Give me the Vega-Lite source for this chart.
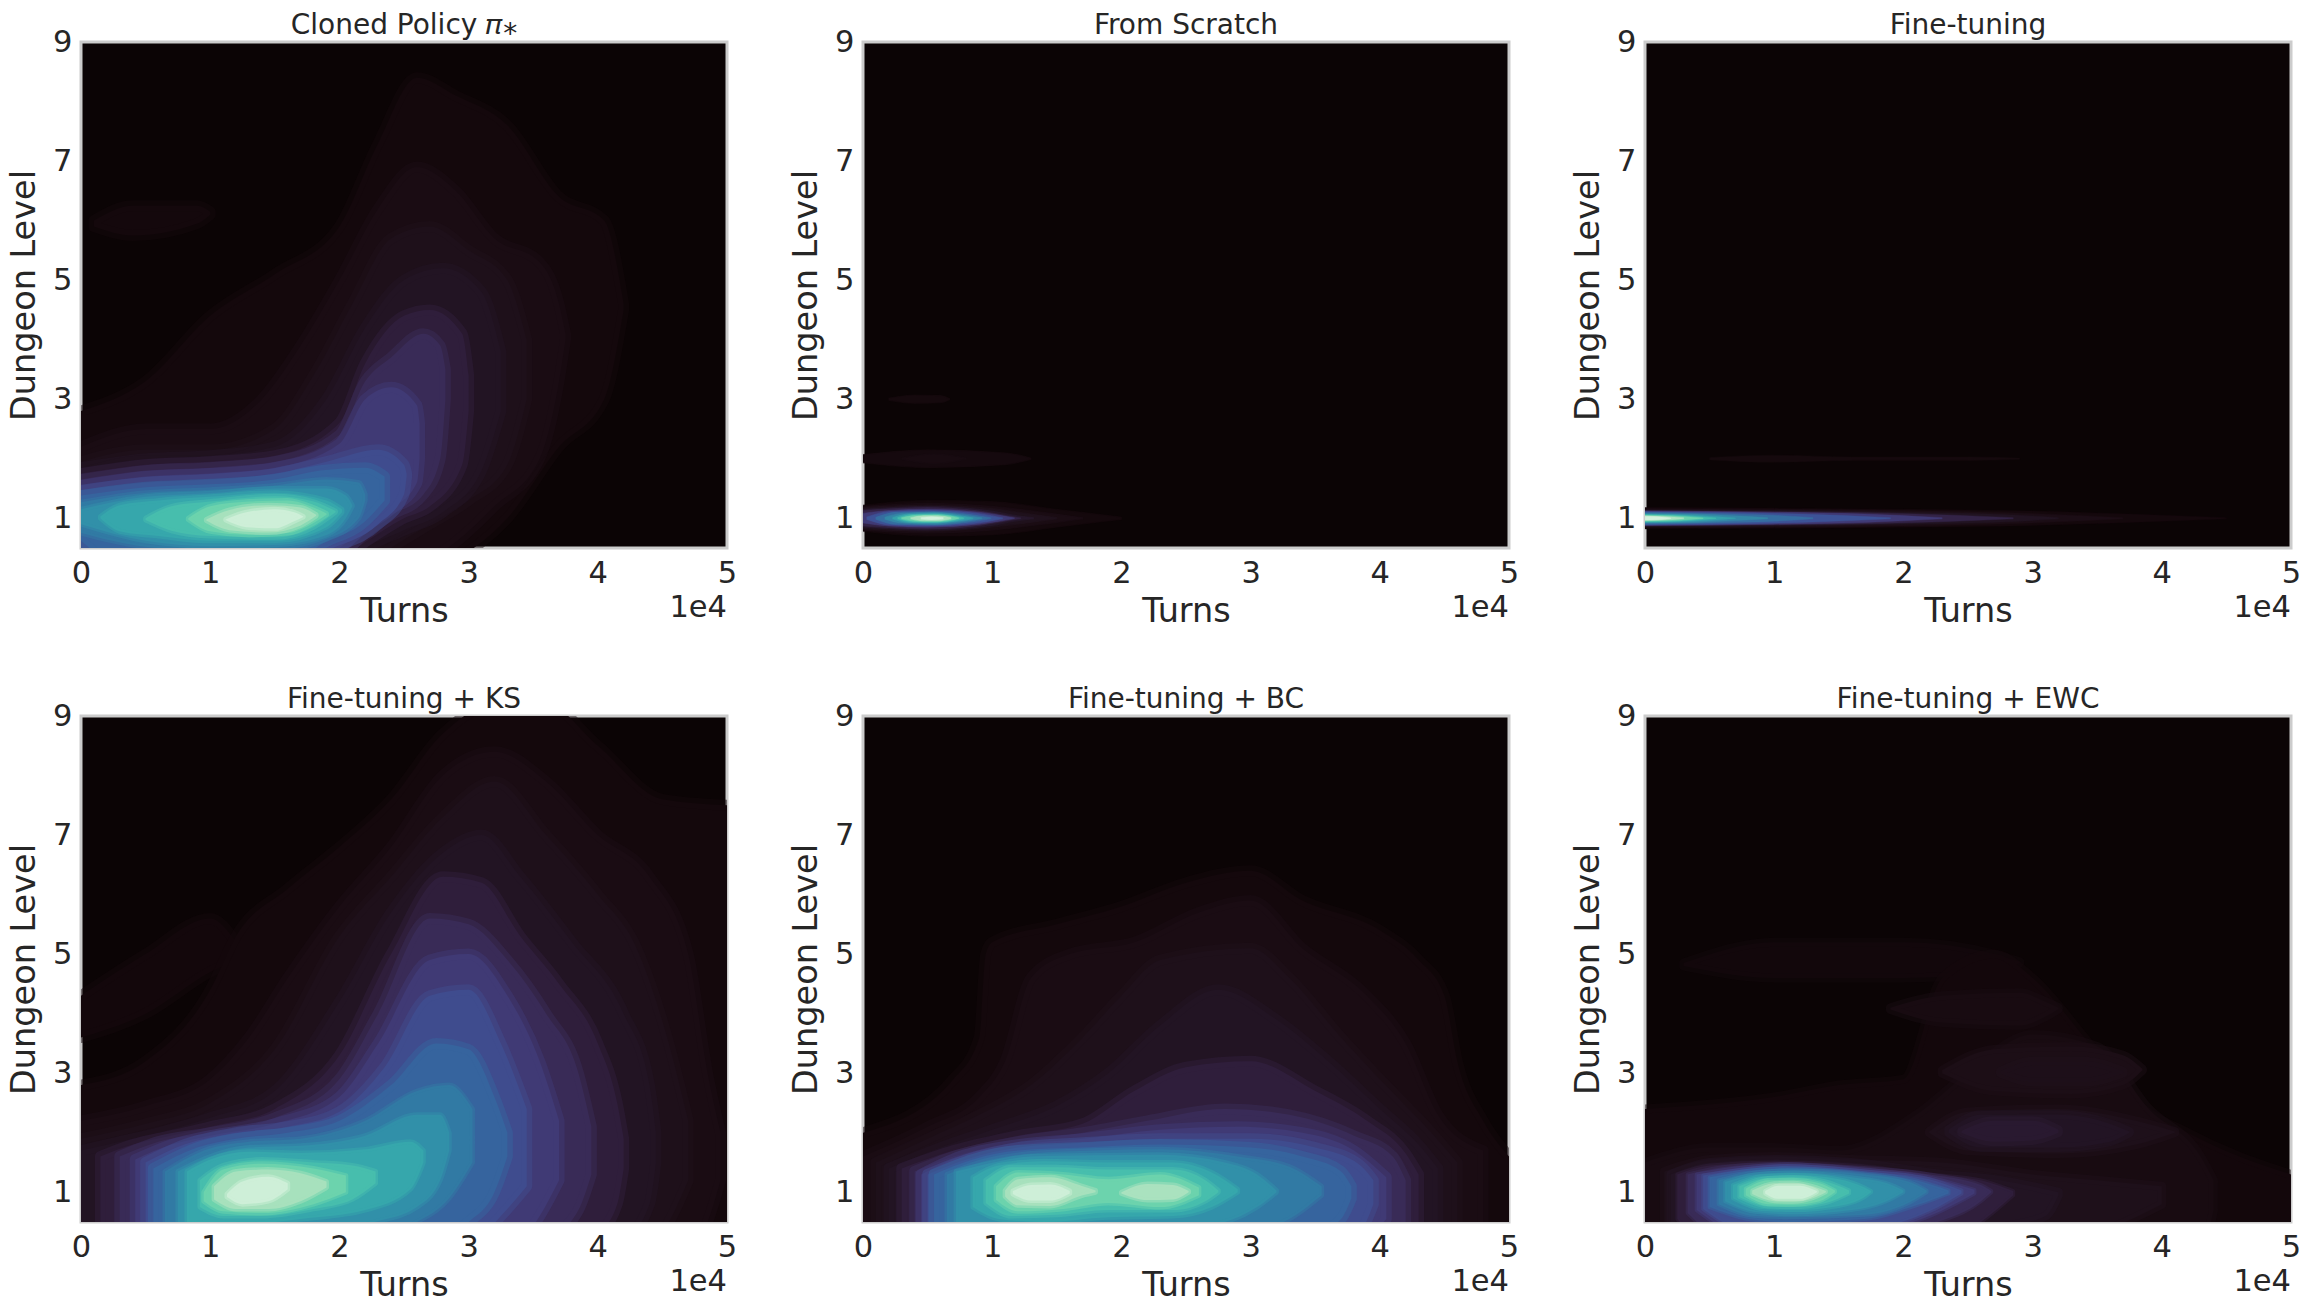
{"$schema":"https://vega.github.io/schema/vega-lite/v6.json","background":"white","padding":{"left":6,"top":10,"right":5,"bottom":5},"bounds":"flush","spacing":{"row":168,"column":136},"columns":3,
"config":{"font":"DejaVu Sans","view":{"fill":"#0B0405","stroke":"#cccccc","strokeWidth":3},"axis":{"domain":false,"ticks":false,"grid":false,"labelFontSize":30.5,"titleFontSize":33.5,"titleFontWeight":"normal","labelColor":"#262626","titleColor":"#262626","labelOverlap":false,"labelFlush":false,"labelBound":false}},
"data":{"values":[
{"p":1,"v":0.03,"x":0,"lo":0,"hi":2.8},{"p":1,"v":0.03,"x":0.5,"lo":0,"hi":3.3},{"p":1,"v":0.03,"x":1,"lo":0,"hi":4.4},{"p":1,"v":0.03,"x":1.5,"lo":0,"hi":5.1},{"p":1,"v":0.03,"x":2,"lo":0,"hi":5.9},{"p":1,"v":0.03,"x":2.3,"lo":0,"hi":7.3},{"p":1,"v":0.03,"x":2.6,"lo":0,"hi":8.4},{"p":1,"v":0.03,"x":2.9,"lo":0.3,"hi":8.1},{"p":1,"v":0.03,"x":3.3,"lo":1,"hi":7.6},{"p":1,"v":0.03,"x":3.7,"lo":2.2,"hi":6.4},{"p":1,"v":0.03,"x":4.05,"lo":3,"hi":6},{"p":1,"v":0.03,"x":4.2,"lo":4.5,"hi":4.6},
{"p":1,"v":0.031,"x":0.1,"lo":5.9,"hi":6},{"p":1,"v":0.031,"x":0.4,"lo":5.75,"hi":6.25},{"p":1,"v":0.031,"x":0.9,"lo":5.95,"hi":6.25},{"p":1,"v":0.031,"x":1,"lo":6.1,"hi":6.15},
{"p":1,"v":0.06,"x":0,"lo":0,"hi":2.2},{"p":1,"v":0.06,"x":0.5,"lo":0,"hi":2.5},{"p":1,"v":0.06,"x":1,"lo":0,"hi":2.5},{"p":1,"v":0.06,"x":1.4,"lo":0,"hi":3},{"p":1,"v":0.06,"x":1.7,"lo":0,"hi":3.9},{"p":1,"v":0.06,"x":2,"lo":0,"hi":5},{"p":1,"v":0.06,"x":2.3,"lo":0,"hi":6.2},{"p":1,"v":0.06,"x":2.6,"lo":0.2,"hi":6.9},{"p":1,"v":0.06,"x":2.9,"lo":0.6,"hi":6.5},{"p":1,"v":0.06,"x":3.2,"lo":1.2,"hi":5.7},{"p":1,"v":0.06,"x":3.55,"lo":2,"hi":5.3},{"p":1,"v":0.06,"x":3.7,"lo":3.3,"hi":4.6},{"p":1,"v":0.06,"x":3.75,"lo":4,"hi":4.1},
{"p":1,"v":0.09,"x":0,"lo":0,"hi":1.95},{"p":1,"v":0.09,"x":0.5,"lo":0,"hi":2.15},{"p":1,"v":0.09,"x":1,"lo":0,"hi":2.15},{"p":1,"v":0.09,"x":1.5,"lo":0,"hi":2.5},{"p":1,"v":0.09,"x":1.8,"lo":0,"hi":3.4},{"p":1,"v":0.09,"x":2.1,"lo":0,"hi":4.6},{"p":1,"v":0.09,"x":2.4,"lo":0.5,"hi":5.7},{"p":1,"v":0.09,"x":2.7,"lo":0.9,"hi":5.9},{"p":1,"v":0.09,"x":3,"lo":1.3,"hi":5.5},{"p":1,"v":0.09,"x":3.3,"lo":1.9,"hi":5},{"p":1,"v":0.09,"x":3.45,"lo":3,"hi":4},
{"p":1,"v":0.13,"x":0,"lo":0,"hi":1.85},{"p":1,"v":0.13,"x":0.5,"lo":0,"hi":2},{"p":1,"v":0.13,"x":1,"lo":0,"hi":2.05},{"p":1,"v":0.13,"x":1.5,"lo":0,"hi":2.2},{"p":1,"v":0.13,"x":1.9,"lo":0,"hi":3},{"p":1,"v":0.13,"x":2.2,"lo":0.5,"hi":4.2},{"p":1,"v":0.13,"x":2.5,"lo":0.8,"hi":5},{"p":1,"v":0.13,"x":2.8,"lo":1.1,"hi":5.2},{"p":1,"v":0.13,"x":3.1,"lo":1.8,"hi":4.8},{"p":1,"v":0.13,"x":3.25,"lo":2.8,"hi":3.8},
{"p":1,"v":0.18,"x":0,"lo":0,"hi":1.75},{"p":1,"v":0.18,"x":0.5,"lo":0,"hi":1.9},{"p":1,"v":0.18,"x":1,"lo":0,"hi":1.95},{"p":1,"v":0.18,"x":1.5,"lo":0,"hi":2.05},{"p":1,"v":0.18,"x":2,"lo":0.3,"hi":2.6},{"p":1,"v":0.18,"x":2.2,"lo":0.6,"hi":3.6},{"p":1,"v":0.18,"x":2.5,"lo":1,"hi":4.4},{"p":1,"v":0.18,"x":2.7,"lo":1.2,"hi":4.5},{"p":1,"v":0.18,"x":2.95,"lo":1.9,"hi":4.1},{"p":1,"v":0.18,"x":3,"lo":2.8,"hi":3.4},
{"p":1,"v":0.23,"x":0,"lo":0,"hi":1.65},{"p":1,"v":0.23,"x":0.5,"lo":0,"hi":1.8},{"p":1,"v":0.23,"x":1,"lo":0,"hi":1.85},{"p":1,"v":0.23,"x":1.5,"lo":0,"hi":1.95},{"p":1,"v":0.23,"x":2,"lo":0.35,"hi":2.4},{"p":1,"v":0.23,"x":2.2,"lo":0.75,"hi":3.3},{"p":1,"v":0.23,"x":2.4,"lo":1.05,"hi":3.7},{"p":1,"v":0.23,"x":2.65,"lo":1.4,"hi":4.1},{"p":1,"v":0.23,"x":2.78,"lo":2,"hi":3.9},{"p":1,"v":0.23,"x":2.82,"lo":3,"hi":3.5},
{"p":1,"v":0.28,"x":0,"lo":0,"hi":1.55},{"p":1,"v":0.28,"x":0.5,"lo":0,"hi":1.7},{"p":1,"v":0.28,"x":1,"lo":0,"hi":1.75},{"p":1,"v":0.28,"x":1.5,"lo":0,"hi":1.85},{"p":1,"v":0.28,"x":2,"lo":0.5,"hi":2.25},{"p":1,"v":0.28,"x":2.2,"lo":0.85,"hi":3},{"p":1,"v":0.28,"x":2.4,"lo":1.15,"hi":3.2},{"p":1,"v":0.28,"x":2.6,"lo":1.6,"hi":2.9},{"p":1,"v":0.28,"x":2.62,"lo":2,"hi":2.6},
{"p":1,"v":0.34,"x":0,"lo":0,"hi":1.47},{"p":1,"v":0.34,"x":0.5,"lo":0,"hi":1.6},{"p":1,"v":0.34,"x":1,"lo":0,"hi":1.65},{"p":1,"v":0.34,"x":1.5,"lo":0,"hi":1.75},{"p":1,"v":0.34,"x":1.9,"lo":0.45,"hi":1.95},{"p":1,"v":0.34,"x":2.3,"lo":0.9,"hi":2.15},{"p":1,"v":0.34,"x":2.5,"lo":1.4,"hi":1.9},{"p":1,"v":0.34,"x":2.52,"lo":1.7,"hi":1.75},
{"p":1,"v":0.42,"x":0,"lo":0.62,"hi":1.38},{"p":1,"v":0.42,"x":0.5,"lo":0,"hi":1.52},{"p":1,"v":0.42,"x":1,"lo":0,"hi":1.57},{"p":1,"v":0.42,"x":1.5,"lo":0,"hi":1.65},{"p":1,"v":0.42,"x":1.85,"lo":0.55,"hi":1.8},{"p":1,"v":0.42,"x":2.2,"lo":0.95,"hi":1.85},{"p":1,"v":0.42,"x":2.35,"lo":1.3,"hi":1.7},
{"p":1,"v":0.5,"x":0,"lo":0.75,"hi":1.27},{"p":1,"v":0.5,"x":0.5,"lo":0.52,"hi":1.43},{"p":1,"v":0.5,"x":1,"lo":0.46,"hi":1.48},{"p":1,"v":0.5,"x":1.5,"lo":0.47,"hi":1.55},{"p":1,"v":0.5,"x":1.9,"lo":0.65,"hi":1.65},{"p":1,"v":0.5,"x":2.15,"lo":1,"hi":1.6},{"p":1,"v":0.5,"x":2.2,"lo":1.3,"hi":1.4},
{"p":1,"v":0.58,"x":0,"lo":0.9,"hi":1.15},{"p":1,"v":0.58,"x":0.5,"lo":0.62,"hi":1.36},{"p":1,"v":0.58,"x":1,"lo":0.53,"hi":1.42},{"p":1,"v":0.58,"x":1.5,"lo":0.55,"hi":1.5},{"p":1,"v":0.58,"x":1.9,"lo":0.72,"hi":1.5},{"p":1,"v":0.58,"x":2.05,"lo":1,"hi":1.38},{"p":1,"v":0.58,"x":2.1,"lo":1.2,"hi":1.22},
{"p":1,"v":0.66,"x":0.15,"lo":1,"hi":1.03},{"p":1,"v":0.66,"x":0.3,"lo":0.78,"hi":1.22},{"p":1,"v":0.66,"x":0.6,"lo":0.7,"hi":1.3},{"p":1,"v":0.66,"x":1,"lo":0.62,"hi":1.36},{"p":1,"v":0.66,"x":1.5,"lo":0.62,"hi":1.43},{"p":1,"v":0.66,"x":1.9,"lo":0.85,"hi":1.3},{"p":1,"v":0.66,"x":2.02,"lo":1.1,"hi":1.15},
{"p":1,"v":0.74,"x":0.5,"lo":0.97,"hi":1},{"p":1,"v":0.74,"x":0.7,"lo":0.79,"hi":1.2},{"p":1,"v":0.74,"x":1,"lo":0.7,"hi":1.28},{"p":1,"v":0.74,"x":1.5,"lo":0.68,"hi":1.37},{"p":1,"v":0.74,"x":1.8,"lo":0.85,"hi":1.28},{"p":1,"v":0.74,"x":1.97,"lo":1.1,"hi":1.12},
{"p":1,"v":0.82,"x":0.83,"lo":0.98,"hi":1},{"p":1,"v":0.82,"x":1,"lo":0.78,"hi":1.2},{"p":1,"v":0.82,"x":1.3,"lo":0.72,"hi":1.28},{"p":1,"v":0.82,"x":1.6,"lo":0.75,"hi":1.3},{"p":1,"v":0.82,"x":1.8,"lo":0.92,"hi":1.18},{"p":1,"v":0.82,"x":1.9,"lo":1.06,"hi":1.08},
{"p":1,"v":0.9,"x":0.97,"lo":0.96,"hi":0.98},{"p":1,"v":0.9,"x":1.15,"lo":0.8,"hi":1.14},{"p":1,"v":0.9,"x":1.45,"lo":0.76,"hi":1.22},{"p":1,"v":0.9,"x":1.7,"lo":0.88,"hi":1.18},{"p":1,"v":0.9,"x":1.82,"lo":1.04,"hi":1.06},
{"p":1,"v":0.97,"x":1.12,"lo":0.97,"hi":0.98},{"p":1,"v":0.97,"x":1.28,"lo":0.85,"hi":1.1},{"p":1,"v":0.97,"x":1.5,"lo":0.83,"hi":1.15},{"p":1,"v":0.97,"x":1.65,"lo":0.95,"hi":1.1},{"p":1,"v":0.97,"x":1.72,"lo":1.02,"hi":1.03},
{"p":2,"v":0.03,"x":0,"lo":0.78,"hi":1.22},{"p":2,"v":0.03,"x":0.5,"lo":0.7,"hi":1.3},{"p":2,"v":0.03,"x":1,"lo":0.72,"hi":1.28},{"p":2,"v":0.03,"x":1.5,"lo":0.85,"hi":1.15},{"p":2,"v":0.03,"x":2,"lo":0.98,"hi":1.02},
{"p":2,"v":0.036,"x":0,"lo":1.93,"hi":2.07},{"p":2,"v":0.036,"x":0.5,"lo":1.85,"hi":2.15},{"p":2,"v":0.036,"x":1.1,"lo":1.9,"hi":2.1},{"p":2,"v":0.036,"x":1.3,"lo":1.99,"hi":2.01},
{"p":2,"v":0.035,"x":0.2,"lo":2.98,"hi":3.02},{"p":2,"v":0.035,"x":0.4,"lo":2.93,"hi":3.07},{"p":2,"v":0.035,"x":0.6,"lo":2.94,"hi":3.06},{"p":2,"v":0.035,"x":0.67,"lo":2.99,"hi":3.01},
{"p":2,"v":0.052,"x":0.3,"lo":1.99,"hi":2.01},{"p":2,"v":0.052,"x":0.55,"lo":1.92,"hi":2.08},{"p":2,"v":0.052,"x":0.8,"lo":1.99,"hi":2.01},
{"p":2,"v":0.06,"x":0,"lo":0.8,"hi":1.2},{"p":2,"v":0.06,"x":0.5,"lo":0.75,"hi":1.25},{"p":2,"v":0.06,"x":1,"lo":0.8,"hi":1.2},{"p":2,"v":0.06,"x":1.4,"lo":0.9,"hi":1.1},{"p":2,"v":0.06,"x":1.7,"lo":0.99,"hi":1.01},
{"p":2,"v":0.1,"x":0,"lo":0.82,"hi":1.18},{"p":2,"v":0.1,"x":0.5,"lo":0.78,"hi":1.22},{"p":2,"v":0.1,"x":1,"lo":0.85,"hi":1.16},{"p":2,"v":0.1,"x":1.3,"lo":0.93,"hi":1.07},{"p":2,"v":0.1,"x":1.5,"lo":0.99,"hi":1.01},
{"p":2,"v":0.15,"x":0,"lo":0.85,"hi":1.15},{"p":2,"v":0.15,"x":0.5,"lo":0.8,"hi":1.2},{"p":2,"v":0.15,"x":1,"lo":0.88,"hi":1.12},{"p":2,"v":0.15,"x":1.2,"lo":0.96,"hi":1.04},{"p":2,"v":0.15,"x":1.32,"lo":0.99,"hi":1.01},
{"p":2,"v":0.2,"x":0,"lo":0.87,"hi":1.13},{"p":2,"v":0.2,"x":0.5,"lo":0.82,"hi":1.18},{"p":2,"v":0.2,"x":0.9,"lo":0.88,"hi":1.12},{"p":2,"v":0.2,"x":1.15,"lo":0.97,"hi":1.03},{"p":2,"v":0.2,"x":1.22,"lo":0.995,"hi":1.005},
{"p":2,"v":0.28,"x":0,"lo":0.92,"hi":1.08},{"p":2,"v":0.28,"x":0.2,"lo":0.87,"hi":1.13},{"p":2,"v":0.28,"x":0.5,"lo":0.85,"hi":1.15},{"p":2,"v":0.28,"x":0.9,"lo":0.9,"hi":1.1},{"p":2,"v":0.28,"x":1.17,"lo":0.995,"hi":1.005},
{"p":2,"v":0.36,"x":0.03,"lo":0.98,"hi":1.02},{"p":2,"v":0.36,"x":0.2,"lo":0.89,"hi":1.11},{"p":2,"v":0.36,"x":0.5,"lo":0.87,"hi":1.13},{"p":2,"v":0.36,"x":0.85,"lo":0.91,"hi":1.09},{"p":2,"v":0.36,"x":1.08,"lo":0.995,"hi":1.005},
{"p":2,"v":0.45,"x":0.1,"lo":0.985,"hi":1.015},{"p":2,"v":0.45,"x":0.25,"lo":0.9,"hi":1.1},{"p":2,"v":0.45,"x":0.55,"lo":0.89,"hi":1.11},{"p":2,"v":0.45,"x":0.8,"lo":0.93,"hi":1.07},{"p":2,"v":0.45,"x":0.99,"lo":0.995,"hi":1.005},
{"p":2,"v":0.55,"x":0.17,"lo":0.985,"hi":1.015},{"p":2,"v":0.55,"x":0.3,"lo":0.92,"hi":1.08},{"p":2,"v":0.55,"x":0.55,"lo":0.9,"hi":1.1},{"p":2,"v":0.55,"x":0.75,"lo":0.94,"hi":1.06},{"p":2,"v":0.55,"x":0.92,"lo":0.995,"hi":1.005},
{"p":2,"v":0.64,"x":0.23,"lo":0.99,"hi":1.01},{"p":2,"v":0.64,"x":0.35,"lo":0.93,"hi":1.07},{"p":2,"v":0.64,"x":0.55,"lo":0.92,"hi":1.08},{"p":2,"v":0.64,"x":0.72,"lo":0.95,"hi":1.05},{"p":2,"v":0.64,"x":0.85,"lo":0.995,"hi":1.005},
{"p":2,"v":0.73,"x":0.27,"lo":0.99,"hi":1.01},{"p":2,"v":0.73,"x":0.38,"lo":0.94,"hi":1.06},{"p":2,"v":0.73,"x":0.55,"lo":0.93,"hi":1.07},{"p":2,"v":0.73,"x":0.68,"lo":0.955,"hi":1.045},{"p":2,"v":0.73,"x":0.78,"lo":0.995,"hi":1.005},
{"p":2,"v":0.82,"x":0.3,"lo":0.99,"hi":1.01},{"p":2,"v":0.82,"x":0.42,"lo":0.95,"hi":1.05},{"p":2,"v":0.82,"x":0.55,"lo":0.945,"hi":1.055},{"p":2,"v":0.82,"x":0.66,"lo":0.96,"hi":1.04},{"p":2,"v":0.82,"x":0.74,"lo":0.995,"hi":1.005},
{"p":2,"v":0.91,"x":0.37,"lo":0.99,"hi":1.01},{"p":2,"v":0.91,"x":0.47,"lo":0.96,"hi":1.04},{"p":2,"v":0.91,"x":0.58,"lo":0.96,"hi":1.04},{"p":2,"v":0.91,"x":0.68,"lo":0.99,"hi":1.01},
{"p":2,"v":0.98,"x":0.45,"lo":0.99,"hi":1.01},{"p":2,"v":0.98,"x":0.53,"lo":0.975,"hi":1.025},{"p":2,"v":0.98,"x":0.62,"lo":0.99,"hi":1.01},
{"p":3,"v":0.03,"x":0,"lo":0.82,"hi":1.18},{"p":3,"v":0.03,"x":1,"lo":0.83,"hi":1.17},{"p":3,"v":0.03,"x":2,"lo":0.85,"hi":1.15},{"p":3,"v":0.03,"x":3,"lo":0.88,"hi":1.12},{"p":3,"v":0.03,"x":4,"lo":0.95,"hi":1.05},{"p":3,"v":0.03,"x":4.5,"lo":0.99,"hi":1.01},
{"p":3,"v":0.035,"x":0.5,"lo":1.98,"hi":2.02},{"p":3,"v":0.035,"x":1,"lo":1.94,"hi":2.06},{"p":3,"v":0.035,"x":1.6,"lo":1.97,"hi":2.03},{"p":3,"v":0.035,"x":2.5,"lo":1.97,"hi":2.03},{"p":3,"v":0.035,"x":2.9,"lo":1.99,"hi":2.01},
{"p":3,"v":0.07,"x":0,"lo":0.84,"hi":1.16},{"p":3,"v":0.07,"x":1,"lo":0.85,"hi":1.15},{"p":3,"v":0.07,"x":2,"lo":0.87,"hi":1.13},{"p":3,"v":0.07,"x":3,"lo":0.92,"hi":1.08},{"p":3,"v":0.07,"x":3.7,"lo":0.99,"hi":1.01},
{"p":3,"v":0.12,"x":0,"lo":0.86,"hi":1.14},{"p":3,"v":0.12,"x":1,"lo":0.87,"hi":1.13},{"p":3,"v":0.12,"x":2,"lo":0.9,"hi":1.1},{"p":3,"v":0.12,"x":2.9,"lo":0.95,"hi":1.05},{"p":3,"v":0.12,"x":3.2,"lo":0.99,"hi":1.01},
{"p":3,"v":0.2,"x":0,"lo":0.87,"hi":1.13},{"p":3,"v":0.2,"x":1,"lo":0.89,"hi":1.11},{"p":3,"v":0.2,"x":1.8,"lo":0.91,"hi":1.09},{"p":3,"v":0.2,"x":2.4,"lo":0.95,"hi":1.05},{"p":3,"v":0.2,"x":2.85,"lo":0.99,"hi":1.01},
{"p":3,"v":0.28,"x":0,"lo":0.88,"hi":1.12},{"p":3,"v":0.28,"x":1,"lo":0.9,"hi":1.1},{"p":3,"v":0.28,"x":1.7,"lo":0.93,"hi":1.07},{"p":3,"v":0.28,"x":2.3,"lo":0.99,"hi":1.01},
{"p":3,"v":0.36,"x":0,"lo":0.89,"hi":1.11},{"p":3,"v":0.36,"x":0.5,"lo":0.9,"hi":1.1},{"p":3,"v":0.36,"x":1.2,"lo":0.93,"hi":1.07},{"p":3,"v":0.36,"x":1.9,"lo":0.99,"hi":1.01},
{"p":3,"v":0.45,"x":0,"lo":0.9,"hi":1.1},{"p":3,"v":0.45,"x":0.5,"lo":0.92,"hi":1.08},{"p":3,"v":0.45,"x":1,"lo":0.95,"hi":1.05},{"p":3,"v":0.45,"x":1.3,"lo":0.99,"hi":1.01},
{"p":3,"v":0.55,"x":0,"lo":0.92,"hi":1.08},{"p":3,"v":0.55,"x":0.4,"lo":0.93,"hi":1.07},{"p":3,"v":0.55,"x":0.7,"lo":0.96,"hi":1.04},{"p":3,"v":0.55,"x":0.95,"lo":0.99,"hi":1.01},
{"p":3,"v":0.64,"x":0,"lo":0.93,"hi":1.07},{"p":3,"v":0.64,"x":0.3,"lo":0.94,"hi":1.06},{"p":3,"v":0.64,"x":0.55,"lo":0.97,"hi":1.03},{"p":3,"v":0.64,"x":0.7,"lo":0.995,"hi":1.005},
{"p":3,"v":0.73,"x":0,"lo":0.94,"hi":1.06},{"p":3,"v":0.73,"x":0.25,"lo":0.95,"hi":1.05},{"p":3,"v":0.73,"x":0.45,"lo":0.98,"hi":1.02},{"p":3,"v":0.73,"x":0.55,"lo":0.995,"hi":1.005},
{"p":3,"v":0.82,"x":0,"lo":0.95,"hi":1.05},{"p":3,"v":0.82,"x":0.2,"lo":0.96,"hi":1.04},{"p":3,"v":0.82,"x":0.35,"lo":0.98,"hi":1.02},{"p":3,"v":0.82,"x":0.45,"lo":0.995,"hi":1.005},
{"p":3,"v":0.91,"x":0,"lo":0.96,"hi":1.04},{"p":3,"v":0.91,"x":0.15,"lo":0.97,"hi":1.03},{"p":3,"v":0.91,"x":0.3,"lo":0.99,"hi":1.01},
{"p":3,"v":0.98,"x":0,"lo":0.97,"hi":1.03},{"p":3,"v":0.98,"x":0.1,"lo":0.975,"hi":1.025},{"p":3,"v":0.98,"x":0.2,"lo":0.995,"hi":1.005},
{"p":4,"v":0.025,"x":0,"lo":3.6,"hi":4.3},{"p":4,"v":0.025,"x":0.5,"lo":4,"hi":5},{"p":4,"v":0.025,"x":1,"lo":4.7,"hi":5.6},{"p":4,"v":0.025,"x":1.2,"lo":4.9,"hi":5.2},
{"p":4,"v":0.03,"x":0,"lo":0,"hi":2.8},{"p":4,"v":0.03,"x":0.5,"lo":0,"hi":3.2},{"p":4,"v":0.03,"x":1,"lo":0,"hi":4.4},{"p":4,"v":0.03,"x":1.2,"lo":0,"hi":5.3},{"p":4,"v":0.03,"x":1.6,"lo":0,"hi":6.1},{"p":4,"v":0.03,"x":2,"lo":0,"hi":6.8},{"p":4,"v":0.03,"x":2.4,"lo":0,"hi":7.6},{"p":4,"v":0.03,"x":2.8,"lo":0,"hi":8.7},{"p":4,"v":0.03,"x":3.2,"lo":0,"hi":9.2},{"p":4,"v":0.03,"x":3.6,"lo":0,"hi":9.2},{"p":4,"v":0.03,"x":4,"lo":0,"hi":8.5},{"p":4,"v":0.03,"x":4.5,"lo":0,"hi":7.6},{"p":4,"v":0.03,"x":5,"lo":0,"hi":7.5},
{"p":4,"v":0.06,"x":0,"lo":0,"hi":2.2},{"p":4,"v":0.06,"x":0.5,"lo":0,"hi":2.45},{"p":4,"v":0.06,"x":1,"lo":0,"hi":2.9},{"p":4,"v":0.06,"x":1.3,"lo":0,"hi":3.6},{"p":4,"v":0.06,"x":1.6,"lo":0,"hi":4.6},{"p":4,"v":0.06,"x":2,"lo":0,"hi":5.8},{"p":4,"v":0.06,"x":2.4,"lo":0,"hi":6.8},{"p":4,"v":0.06,"x":2.8,"lo":0,"hi":8},{"p":4,"v":0.06,"x":3.2,"lo":0,"hi":8.4},{"p":4,"v":0.06,"x":3.6,"lo":0,"hi":7.9},{"p":4,"v":0.06,"x":4,"lo":0,"hi":7},{"p":4,"v":0.06,"x":4.4,"lo":0,"hi":6.3},{"p":4,"v":0.06,"x":4.7,"lo":0,"hi":5},{"p":4,"v":0.06,"x":4.85,"lo":0.5,"hi":3},{"p":4,"v":0.06,"x":4.95,"lo":1.2,"hi":2},
{"p":4,"v":0.09,"x":0,"lo":0,"hi":1.9},{"p":4,"v":0.09,"x":0.5,"lo":0,"hi":2.15},{"p":4,"v":0.09,"x":1,"lo":0,"hi":2.5},{"p":4,"v":0.09,"x":1.5,"lo":0,"hi":3.4},{"p":4,"v":0.09,"x":2,"lo":0,"hi":5.3},{"p":4,"v":0.09,"x":2.4,"lo":0,"hi":6.3},{"p":4,"v":0.09,"x":2.8,"lo":0,"hi":7.3},{"p":4,"v":0.09,"x":3.2,"lo":0,"hi":7.9},{"p":4,"v":0.09,"x":3.6,"lo":0,"hi":7},{"p":4,"v":0.09,"x":4,"lo":0,"hi":6},{"p":4,"v":0.09,"x":4.3,"lo":0,"hi":5.1},{"p":4,"v":0.09,"x":4.55,"lo":0.5,"hi":3.5},{"p":4,"v":0.09,"x":4.7,"lo":1.2,"hi":2.2},
{"p":4,"v":0.13,"x":0,"lo":0.35,"hi":1.7},{"p":4,"v":0.13,"x":0.3,"lo":0,"hi":1.85},{"p":4,"v":0.13,"x":0.6,"lo":0,"hi":2},{"p":4,"v":0.13,"x":1,"lo":0,"hi":2.25},{"p":4,"v":0.13,"x":1.5,"lo":0,"hi":2.7},{"p":4,"v":0.13,"x":2,"lo":0,"hi":4.2},{"p":4,"v":0.13,"x":2.4,"lo":0,"hi":5.7},{"p":4,"v":0.13,"x":2.8,"lo":0,"hi":6.7},{"p":4,"v":0.13,"x":3.1,"lo":0,"hi":7},{"p":4,"v":0.13,"x":3.4,"lo":0,"hi":6.3},{"p":4,"v":0.13,"x":3.8,"lo":0,"hi":5.2},{"p":4,"v":0.13,"x":4.2,"lo":0.2,"hi":4},{"p":4,"v":0.13,"x":4.4,"lo":0.8,"hi":2.8},{"p":4,"v":0.13,"x":4.45,"lo":1.5,"hi":2},
{"p":4,"v":0.18,"x":0.15,"lo":0,"hi":1.6},{"p":4,"v":0.18,"x":0.4,"lo":0,"hi":1.8},{"p":4,"v":0.18,"x":0.7,"lo":0,"hi":1.95},{"p":4,"v":0.18,"x":1,"lo":0,"hi":2.1},{"p":4,"v":0.18,"x":1.5,"lo":0,"hi":2.4},{"p":4,"v":0.18,"x":2,"lo":0,"hi":3.3},{"p":4,"v":0.18,"x":2.4,"lo":0,"hi":5},{"p":4,"v":0.18,"x":2.8,"lo":0,"hi":6.3},{"p":4,"v":0.18,"x":3.1,"lo":0,"hi":6.2},{"p":4,"v":0.18,"x":3.4,"lo":0,"hi":5.3},{"p":4,"v":0.18,"x":3.7,"lo":0,"hi":4.5},{"p":4,"v":0.18,"x":4,"lo":0.3,"hi":3.5},{"p":4,"v":0.18,"x":4.15,"lo":0.8,"hi":2.5},{"p":4,"v":0.18,"x":4.2,"lo":1.4,"hi":1.9},
{"p":4,"v":0.23,"x":0.3,"lo":0,"hi":1.6},{"p":4,"v":0.23,"x":0.6,"lo":0,"hi":1.85},{"p":4,"v":0.23,"x":1,"lo":0,"hi":2},{"p":4,"v":0.23,"x":1.5,"lo":0,"hi":2.25},{"p":4,"v":0.23,"x":2,"lo":0,"hi":2.9},{"p":4,"v":0.23,"x":2.3,"lo":0,"hi":4},{"p":4,"v":0.23,"x":2.7,"lo":0,"hi":5.6},{"p":4,"v":0.23,"x":3,"lo":0,"hi":5.5},{"p":4,"v":0.23,"x":3.3,"lo":0,"hi":4.9},{"p":4,"v":0.23,"x":3.6,"lo":0.2,"hi":4},{"p":4,"v":0.23,"x":3.85,"lo":0.7,"hi":3},{"p":4,"v":0.23,"x":3.95,"lo":1.3,"hi":2.1},
{"p":4,"v":0.28,"x":0.42,"lo":0,"hi":1.55},{"p":4,"v":0.28,"x":0.7,"lo":0,"hi":1.8},{"p":4,"v":0.28,"x":1,"lo":0,"hi":1.95},{"p":4,"v":0.28,"x":1.5,"lo":0,"hi":2.15},{"p":4,"v":0.28,"x":2,"lo":0,"hi":2.6},{"p":4,"v":0.28,"x":2.3,"lo":0,"hi":3.5},{"p":4,"v":0.28,"x":2.7,"lo":0,"hi":4.9},{"p":4,"v":0.28,"x":3,"lo":0,"hi":5},{"p":4,"v":0.28,"x":3.3,"lo":0,"hi":4.3},{"p":4,"v":0.28,"x":3.55,"lo":0.6,"hi":3.2},{"p":4,"v":0.28,"x":3.7,"lo":1.2,"hi":2.2},
{"p":4,"v":0.34,"x":0.5,"lo":0,"hi":1.5},{"p":4,"v":0.34,"x":0.8,"lo":0,"hi":1.8},{"p":4,"v":0.34,"x":1.2,"lo":0,"hi":2},{"p":4,"v":0.34,"x":1.6,"lo":0,"hi":2.1},{"p":4,"v":0.34,"x":2,"lo":0,"hi":2.35},{"p":4,"v":0.34,"x":2.35,"lo":0,"hi":3.1},{"p":4,"v":0.34,"x":2.7,"lo":0,"hi":4.3},{"p":4,"v":0.34,"x":3,"lo":0.1,"hi":4.4},{"p":4,"v":0.34,"x":3.25,"lo":0.6,"hi":3.5},{"p":4,"v":0.34,"x":3.45,"lo":1.1,"hi":2.4},
{"p":4,"v":0.42,"x":0.56,"lo":0,"hi":1.4},{"p":4,"v":0.42,"x":0.9,"lo":0,"hi":1.75},{"p":4,"v":0.42,"x":1.2,"lo":0,"hi":1.9},{"p":4,"v":0.42,"x":1.6,"lo":0,"hi":2},{"p":4,"v":0.42,"x":2,"lo":0,"hi":2.2},{"p":4,"v":0.42,"x":2.4,"lo":0,"hi":2.8},{"p":4,"v":0.42,"x":2.75,"lo":0.2,"hi":3.5},{"p":4,"v":0.42,"x":3,"lo":0.5,"hi":3.4},{"p":4,"v":0.42,"x":3.2,"lo":1,"hi":2.6},{"p":4,"v":0.42,"x":3.3,"lo":1.6,"hi":2},
{"p":4,"v":0.5,"x":0.65,"lo":0,"hi":1.35},{"p":4,"v":0.5,"x":0.95,"lo":0,"hi":1.7},{"p":4,"v":0.5,"x":1.3,"lo":0,"hi":1.85},{"p":4,"v":0.5,"x":1.7,"lo":0,"hi":1.9},{"p":4,"v":0.5,"x":2.2,"lo":0.2,"hi":2.2},{"p":4,"v":0.5,"x":2.6,"lo":0.5,"hi":2.7},{"p":4,"v":0.5,"x":2.85,"lo":0.9,"hi":2.8},{"p":4,"v":0.5,"x":3.03,"lo":1.5,"hi":2.4},
{"p":4,"v":0.58,"x":0.75,"lo":0,"hi":1.35},{"p":4,"v":0.58,"x":1,"lo":0,"hi":1.6},{"p":4,"v":0.58,"x":1.3,"lo":0,"hi":1.75},{"p":4,"v":0.58,"x":1.7,"lo":0,"hi":1.78},{"p":4,"v":0.58,"x":2.2,"lo":0.45,"hi":1.95},{"p":4,"v":0.58,"x":2.6,"lo":0.75,"hi":2.3},{"p":4,"v":0.58,"x":2.78,"lo":1.2,"hi":2.3},{"p":4,"v":0.58,"x":2.85,"lo":1.7,"hi":2},
{"p":4,"v":0.66,"x":0.82,"lo":0.45,"hi":1.35},{"p":4,"v":0.66,"x":1,"lo":0.5,"hi":1.55},{"p":4,"v":0.66,"x":1.3,"lo":0.47,"hi":1.68},{"p":4,"v":0.66,"x":1.7,"lo":0.55,"hi":1.66},{"p":4,"v":0.66,"x":2.2,"lo":0.7,"hi":1.72},{"p":4,"v":0.66,"x":2.55,"lo":1.05,"hi":1.85},{"p":4,"v":0.66,"x":2.65,"lo":1.5,"hi":1.7},
{"p":4,"v":0.74,"x":0.92,"lo":0.75,"hi":1.2},{"p":4,"v":0.74,"x":1.1,"lo":0.6,"hi":1.45},{"p":4,"v":0.74,"x":1.4,"lo":0.6,"hi":1.55},{"p":4,"v":0.74,"x":1.8,"lo":0.72,"hi":1.5},{"p":4,"v":0.74,"x":2.1,"lo":0.88,"hi":1.45},{"p":4,"v":0.74,"x":2.28,"lo":1.15,"hi":1.35},
{"p":4,"v":0.82,"x":0.95,"lo":0.85,"hi":1},{"p":4,"v":0.82,"x":1.1,"lo":0.68,"hi":1.38},{"p":4,"v":0.82,"x":1.4,"lo":0.65,"hi":1.48},{"p":4,"v":0.82,"x":1.8,"lo":0.8,"hi":1.4},{"p":4,"v":0.82,"x":2.05,"lo":1,"hi":1.28},
{"p":4,"v":0.9,"x":1.03,"lo":0.88,"hi":1.1},{"p":4,"v":0.9,"x":1.2,"lo":0.72,"hi":1.35},{"p":4,"v":0.9,"x":1.45,"lo":0.72,"hi":1.38},{"p":4,"v":0.9,"x":1.7,"lo":0.85,"hi":1.32},{"p":4,"v":0.9,"x":1.9,"lo":1.08,"hi":1.18},
{"p":4,"v":0.97,"x":1.13,"lo":0.92,"hi":0.97},{"p":4,"v":0.97,"x":1.25,"lo":0.8,"hi":1.18},{"p":4,"v":0.97,"x":1.45,"lo":0.85,"hi":1.26},{"p":4,"v":0.97,"x":1.6,"lo":1.05,"hi":1.15},
{"p":5,"v":0.03,"x":0,"lo":0,"hi":2},{"p":5,"v":0.03,"x":0.7,"lo":0,"hi":2.9},{"p":5,"v":0.03,"x":0.9,"lo":0,"hi":3.6},{"p":5,"v":0.03,"x":0.95,"lo":0,"hi":5},{"p":5,"v":0.03,"x":1,"lo":0,"hi":5.2},{"p":5,"v":0.03,"x":1.5,"lo":0,"hi":5.5},{"p":5,"v":0.03,"x":2,"lo":0,"hi":5.8},{"p":5,"v":0.03,"x":2.5,"lo":0,"hi":6.2},{"p":5,"v":0.03,"x":3,"lo":0,"hi":6.4},{"p":5,"v":0.03,"x":3.4,"lo":0,"hi":5.9},{"p":5,"v":0.03,"x":4,"lo":0,"hi":5.4},{"p":5,"v":0.03,"x":4.3,"lo":0,"hi":4.9},{"p":5,"v":0.03,"x":4.5,"lo":0,"hi":4.3},{"p":5,"v":0.03,"x":4.6,"lo":0,"hi":3.2},{"p":5,"v":0.03,"x":4.8,"lo":0,"hi":2.2},{"p":5,"v":0.03,"x":5,"lo":0,"hi":1.6},
{"p":5,"v":0.06,"x":0,"lo":0,"hi":1.6},{"p":5,"v":0.06,"x":0.5,"lo":0,"hi":2.1},{"p":5,"v":0.06,"x":0.9,"lo":0,"hi":2.6},{"p":5,"v":0.06,"x":1.1,"lo":0,"hi":3.2},{"p":5,"v":0.06,"x":1.3,"lo":0,"hi":4.6},{"p":5,"v":0.06,"x":1.6,"lo":0,"hi":5},{"p":5,"v":0.06,"x":2.1,"lo":0,"hi":5.2},{"p":5,"v":0.06,"x":2.6,"lo":0,"hi":5.7},{"p":5,"v":0.06,"x":3,"lo":0,"hi":5.9},{"p":5,"v":0.06,"x":3.4,"lo":0,"hi":5.1},{"p":5,"v":0.06,"x":3.9,"lo":0,"hi":4.3},{"p":5,"v":0.06,"x":4.2,"lo":0,"hi":3.5},{"p":5,"v":0.06,"x":4.45,"lo":0,"hi":2.3},{"p":5,"v":0.06,"x":4.8,"lo":0.3,"hi":1.7},
{"p":5,"v":0.09,"x":0.1,"lo":0,"hi":1.5},{"p":5,"v":0.09,"x":0.5,"lo":0,"hi":1.9},{"p":5,"v":0.09,"x":0.9,"lo":0,"hi":2.3},{"p":5,"v":0.09,"x":1.3,"lo":0,"hi":2.8},{"p":5,"v":0.09,"x":1.7,"lo":0,"hi":3.6},{"p":5,"v":0.09,"x":2,"lo":0,"hi":4.3},{"p":5,"v":0.09,"x":2.3,"lo":0,"hi":4.9},{"p":5,"v":0.09,"x":3,"lo":0,"hi":5.1},{"p":5,"v":0.09,"x":3.3,"lo":0,"hi":4.6},{"p":5,"v":0.09,"x":3.7,"lo":0,"hi":3.6},{"p":5,"v":0.09,"x":4,"lo":0,"hi":2.9},{"p":5,"v":0.09,"x":4.4,"lo":0,"hi":2},{"p":5,"v":0.09,"x":4.6,"lo":0.2,"hi":1.5},
{"p":5,"v":0.13,"x":0.2,"lo":0,"hi":1.4},{"p":5,"v":0.13,"x":0.6,"lo":0,"hi":1.75},{"p":5,"v":0.13,"x":1,"lo":0,"hi":2.05},{"p":5,"v":0.13,"x":1.5,"lo":0,"hi":2.45},{"p":5,"v":0.13,"x":1.9,"lo":0,"hi":3},{"p":5,"v":0.13,"x":2.3,"lo":0,"hi":3.8},{"p":5,"v":0.13,"x":2.75,"lo":0,"hi":4.4},{"p":5,"v":0.13,"x":3.2,"lo":0,"hi":3.9},{"p":5,"v":0.13,"x":3.6,"lo":0,"hi":3.2},{"p":5,"v":0.13,"x":4,"lo":0,"hi":2.4},{"p":5,"v":0.13,"x":4.3,"lo":0,"hi":1.8},{"p":5,"v":0.13,"x":4.45,"lo":0.3,"hi":1.4},
{"p":5,"v":0.18,"x":0.3,"lo":0,"hi":1.4},{"p":5,"v":0.18,"x":0.7,"lo":0,"hi":1.7},{"p":5,"v":0.18,"x":1.2,"lo":0,"hi":1.95},{"p":5,"v":0.18,"x":1.7,"lo":0,"hi":2.15},{"p":5,"v":0.18,"x":2.1,"lo":0,"hi":2.7},{"p":5,"v":0.18,"x":2.5,"lo":0,"hi":3.1},{"p":5,"v":0.18,"x":3,"lo":0,"hi":3.2},{"p":5,"v":0.18,"x":3.5,"lo":0,"hi":2.7},{"p":5,"v":0.18,"x":3.9,"lo":0,"hi":2.2},{"p":5,"v":0.18,"x":4.2,"lo":0,"hi":1.65},{"p":5,"v":0.18,"x":4.3,"lo":0.4,"hi":1.3},
{"p":5,"v":0.23,"x":0.4,"lo":0,"hi":1.35},{"p":5,"v":0.23,"x":0.7,"lo":0,"hi":1.6},{"p":5,"v":0.23,"x":1.2,"lo":0,"hi":1.85},{"p":5,"v":0.23,"x":1.7,"lo":0,"hi":2},{"p":5,"v":0.23,"x":2.2,"lo":0,"hi":2.2},{"p":5,"v":0.23,"x":2.8,"lo":0,"hi":2.4},{"p":5,"v":0.23,"x":3.3,"lo":0,"hi":2.3},{"p":5,"v":0.23,"x":3.8,"lo":0,"hi":1.95},{"p":5,"v":0.23,"x":4.1,"lo":0.1,"hi":1.6},{"p":5,"v":0.23,"x":4.2,"lo":0.5,"hi":1.2},
{"p":5,"v":0.28,"x":0.45,"lo":0,"hi":1.3},{"p":5,"v":0.28,"x":0.75,"lo":0,"hi":1.6},{"p":5,"v":0.28,"x":1.2,"lo":0,"hi":1.8},{"p":5,"v":0.28,"x":1.7,"lo":0,"hi":1.9},{"p":5,"v":0.28,"x":2.3,"lo":0,"hi":2.05},{"p":5,"v":0.28,"x":2.9,"lo":0,"hi":2.1},{"p":5,"v":0.28,"x":3.4,"lo":0,"hi":2},{"p":5,"v":0.28,"x":3.8,"lo":0.1,"hi":1.7},{"p":5,"v":0.28,"x":4.05,"lo":0.55,"hi":1.25},
{"p":5,"v":0.34,"x":0.5,"lo":0,"hi":1.3},{"p":5,"v":0.34,"x":0.8,"lo":0,"hi":1.55},{"p":5,"v":0.34,"x":1.2,"lo":0,"hi":1.75},{"p":5,"v":0.34,"x":1.7,"lo":0,"hi":1.83},{"p":5,"v":0.34,"x":2.3,"lo":0,"hi":1.9},{"p":5,"v":0.34,"x":3,"lo":0,"hi":1.9},{"p":5,"v":0.34,"x":3.5,"lo":0,"hi":1.75},{"p":5,"v":0.34,"x":3.85,"lo":0.35,"hi":1.45},{"p":5,"v":0.34,"x":3.95,"lo":0.8,"hi":1.2},
{"p":5,"v":0.42,"x":0.55,"lo":0,"hi":1.3},{"p":5,"v":0.42,"x":0.85,"lo":0,"hi":1.55},{"p":5,"v":0.42,"x":1.2,"lo":0,"hi":1.7},{"p":5,"v":0.42,"x":1.7,"lo":0,"hi":1.75},{"p":5,"v":0.42,"x":2.3,"lo":0,"hi":1.8},{"p":5,"v":0.42,"x":3,"lo":0,"hi":1.75},{"p":5,"v":0.42,"x":3.4,"lo":0.2,"hi":1.6},{"p":5,"v":0.42,"x":3.7,"lo":0.55,"hi":1.35},{"p":5,"v":0.42,"x":3.78,"lo":0.9,"hi":1.1},
{"p":5,"v":0.5,"x":0.65,"lo":0,"hi":1.3},{"p":5,"v":0.5,"x":0.9,"lo":0,"hi":1.5},{"p":5,"v":0.5,"x":1.3,"lo":0,"hi":1.65},{"p":5,"v":0.5,"x":1.8,"lo":0,"hi":1.7},{"p":5,"v":0.5,"x":2.3,"lo":0,"hi":1.72},{"p":5,"v":0.5,"x":2.9,"lo":0.3,"hi":1.6},{"p":5,"v":0.5,"x":3.3,"lo":0.55,"hi":1.43},{"p":5,"v":0.5,"x":3.55,"lo":0.95,"hi":1.1},
{"p":5,"v":0.58,"x":0.72,"lo":0.3,"hi":1.35},{"p":5,"v":0.58,"x":0.95,"lo":0,"hi":1.47},{"p":5,"v":0.58,"x":1.3,"lo":0.25,"hi":1.6},{"p":5,"v":0.58,"x":1.8,"lo":0.35,"hi":1.62},{"p":5,"v":0.58,"x":2.3,"lo":0.35,"hi":1.63},{"p":5,"v":0.58,"x":2.8,"lo":0.5,"hi":1.5},{"p":5,"v":0.58,"x":3.05,"lo":0.75,"hi":1.3},{"p":5,"v":0.58,"x":3.2,"lo":1,"hi":1.03},
{"p":5,"v":0.66,"x":0.85,"lo":0.75,"hi":1.25},{"p":5,"v":0.66,"x":1.05,"lo":0.55,"hi":1.45},{"p":5,"v":0.66,"x":1.4,"lo":0.5,"hi":1.52},{"p":5,"v":0.66,"x":1.9,"lo":0.58,"hi":1.5},{"p":5,"v":0.66,"x":2.4,"lo":0.6,"hi":1.5},{"p":5,"v":0.66,"x":2.7,"lo":0.75,"hi":1.33},{"p":5,"v":0.66,"x":2.9,"lo":1,"hi":1.05},
{"p":5,"v":0.74,"x":0.95,"lo":0.82,"hi":1.2},{"p":5,"v":0.74,"x":1.15,"lo":0.6,"hi":1.42},{"p":5,"v":0.74,"x":1.5,"lo":0.62,"hi":1.42},{"p":5,"v":0.74,"x":1.9,"lo":0.7,"hi":1.38},{"p":5,"v":0.74,"x":2.4,"lo":0.7,"hi":1.38},{"p":5,"v":0.74,"x":2.65,"lo":0.85,"hi":1.2},{"p":5,"v":0.74,"x":2.75,"lo":1,"hi":1.03},
{"p":5,"v":0.82,"x":1.03,"lo":0.87,"hi":1.1},{"p":5,"v":0.82,"x":1.2,"lo":0.68,"hi":1.33},{"p":5,"v":0.82,"x":1.55,"lo":0.72,"hi":1.3},{"p":5,"v":0.82,"x":1.9,"lo":0.82,"hi":1.22},{"p":5,"v":0.82,"x":2.3,"lo":0.75,"hi":1.3},{"p":5,"v":0.82,"x":2.6,"lo":0.95,"hi":1.08},
{"p":5,"v":0.9,"x":1.1,"lo":0.93,"hi":1.03},{"p":5,"v":0.9,"x":1.2,"lo":0.78,"hi":1.22},{"p":5,"v":0.9,"x":1.45,"lo":0.77,"hi":1.25},{"p":5,"v":0.9,"x":1.7,"lo":0.95,"hi":1.1},{"p":5,"v":0.9,"x":1.8,"lo":1,"hi":1.03},
{"p":5,"v":0.905,"x":2,"lo":0.98,"hi":1},{"p":5,"v":0.905,"x":2.2,"lo":0.87,"hi":1.14},{"p":5,"v":0.905,"x":2.4,"lo":0.88,"hi":1.12},{"p":5,"v":0.905,"x":2.52,"lo":1,"hi":1.02},
{"p":5,"v":0.97,"x":1.16,"lo":0.97,"hi":1.02},{"p":5,"v":0.97,"x":1.3,"lo":0.86,"hi":1.12},{"p":5,"v":0.97,"x":1.45,"lo":0.86,"hi":1.13},{"p":5,"v":0.97,"x":1.6,"lo":0.98,"hi":1.02},
{"p":6,"v":0.024,"x":0.3,"lo":4.8,"hi":4.85},{"p":6,"v":0.024,"x":1,"lo":4.6,"hi":5.2},{"p":6,"v":0.024,"x":2,"lo":4.6,"hi":5.2},{"p":6,"v":0.024,"x":2.7,"lo":4.7,"hi":5},{"p":6,"v":0.024,"x":2.9,"lo":4.85,"hi":4.87},
{"p":6,"v":0.025,"x":0,"lo":0,"hi":2.4},{"p":6,"v":0.025,"x":1,"lo":0,"hi":2.6},{"p":6,"v":0.025,"x":1.5,"lo":0,"hi":2.8},{"p":6,"v":0.025,"x":2,"lo":0,"hi":2.9},{"p":6,"v":0.025,"x":2.3,"lo":0,"hi":4.6},{"p":6,"v":0.025,"x":2.7,"lo":0,"hi":5},{"p":6,"v":0.025,"x":3,"lo":0,"hi":4.6},{"p":6,"v":0.025,"x":3.4,"lo":0,"hi":3.6},{"p":6,"v":0.025,"x":3.8,"lo":0,"hi":2.5},{"p":6,"v":0.025,"x":4.2,"lo":0,"hi":2},{"p":6,"v":0.025,"x":4.6,"lo":0,"hi":1.6},{"p":6,"v":0.025,"x":5,"lo":0.2,"hi":1.3},
{"p":6,"v":0.05,"x":0,"lo":0,"hi":1.5},{"p":6,"v":0.05,"x":0.5,"lo":0,"hi":1.75},{"p":6,"v":0.05,"x":1,"lo":0,"hi":1.75},{"p":6,"v":0.05,"x":1.5,"lo":0,"hi":1.7},{"p":6,"v":0.05,"x":2.1,"lo":0,"hi":2.3},{"p":6,"v":0.05,"x":2.5,"lo":0,"hi":3},{"p":6,"v":0.05,"x":3,"lo":0,"hi":3.65},{"p":6,"v":0.05,"x":3.5,"lo":0,"hi":3.45},{"p":6,"v":0.05,"x":3.9,"lo":0,"hi":2.4},{"p":6,"v":0.05,"x":4.3,"lo":0,"hi":1.6},{"p":6,"v":0.05,"x":4.4,"lo":0.7,"hi":1.2},
{"p":6,"v":0.051,"x":1.9,"lo":4.07,"hi":4.1},{"p":6,"v":0.051,"x":2.3,"lo":3.85,"hi":4.3},{"p":6,"v":0.051,"x":2.9,"lo":3.8,"hi":4.35},{"p":6,"v":0.051,"x":3.1,"lo":3.95,"hi":4.2},{"p":6,"v":0.051,"x":3.2,"lo":4.08,"hi":4.1},
{"p":6,"v":0.09,"x":0.15,"lo":0,"hi":1.35},{"p":6,"v":0.09,"x":0.5,"lo":0,"hi":1.55},{"p":6,"v":0.09,"x":1,"lo":0,"hi":1.6},{"p":6,"v":0.09,"x":1.6,"lo":0,"hi":1.55},{"p":6,"v":0.09,"x":2.3,"lo":0,"hi":1.5},{"p":6,"v":0.09,"x":3,"lo":0,"hi":1.3},{"p":6,"v":0.09,"x":3.5,"lo":0.3,"hi":1.2},{"p":6,"v":0.09,"x":4,"lo":0.8,"hi":1.1},
{"p":6,"v":0.072,"x":2.3,"lo":3,"hi":3.05},{"p":6,"v":0.072,"x":2.7,"lo":2.7,"hi":3.4},{"p":6,"v":0.072,"x":3.3,"lo":2.65,"hi":3.45},{"p":6,"v":0.072,"x":3.7,"lo":2.8,"hi":3.3},{"p":6,"v":0.072,"x":3.85,"lo":3.05,"hi":3.07},
{"p":6,"v":0.092,"x":2.2,"lo":2,"hi":2.02},{"p":6,"v":0.092,"x":2.5,"lo":1.7,"hi":2.35},{"p":6,"v":0.092,"x":3.2,"lo":1.65,"hi":2.4},{"p":6,"v":0.092,"x":3.8,"lo":1.8,"hi":2.2},{"p":6,"v":0.092,"x":4.1,"lo":2,"hi":2.02},
{"p":6,"v":0.13,"x":0.2,"lo":0.2,"hi":1.3},{"p":6,"v":0.13,"x":0.5,"lo":0,"hi":1.5},{"p":6,"v":0.13,"x":1,"lo":0,"hi":1.55},{"p":6,"v":0.13,"x":1.6,"lo":0,"hi":1.5},{"p":6,"v":0.13,"x":2.3,"lo":0,"hi":1.3},{"p":6,"v":0.13,"x":2.75,"lo":0.4,"hi":1.2},{"p":6,"v":0.13,"x":3.1,"lo":0.6,"hi":1.05},{"p":6,"v":0.13,"x":3.2,"lo":0.95,"hi":1},
{"p":6,"v":0.131,"x":2.35,"lo":2,"hi":2.05},{"p":6,"v":0.131,"x":2.6,"lo":1.75,"hi":2.3},{"p":6,"v":0.131,"x":3.2,"lo":1.75,"hi":2.3},{"p":6,"v":0.131,"x":3.6,"lo":1.85,"hi":2.15},{"p":6,"v":0.131,"x":3.75,"lo":2,"hi":2.02},
{"p":6,"v":0.085,"x":2.75,"lo":3,"hi":3.03},{"p":6,"v":0.085,"x":3,"lo":2.85,"hi":3.2},{"p":6,"v":0.085,"x":3.4,"lo":2.85,"hi":3.2},{"p":6,"v":0.085,"x":3.7,"lo":3,"hi":3.03},
{"p":6,"v":0.16,"x":2.45,"lo":2,"hi":2.03},{"p":6,"v":0.16,"x":2.7,"lo":1.85,"hi":2.2},{"p":6,"v":0.16,"x":3,"lo":1.87,"hi":2.2},{"p":6,"v":0.16,"x":3.2,"lo":2,"hi":2.05},
{"p":6,"v":0.18,"x":0.25,"lo":0.55,"hi":1.3},{"p":6,"v":0.18,"x":0.5,"lo":0.1,"hi":1.45},{"p":6,"v":0.18,"x":1,"lo":0,"hi":1.5},{"p":6,"v":0.18,"x":1.6,"lo":0,"hi":1.45},{"p":6,"v":0.18,"x":2.2,"lo":0,"hi":1.3},{"p":6,"v":0.18,"x":2.6,"lo":0.5,"hi":1.2},{"p":6,"v":0.18,"x":2.85,"lo":0.95,"hi":1.02},
{"p":6,"v":0.23,"x":0.33,"lo":0.65,"hi":1.3},{"p":6,"v":0.23,"x":0.6,"lo":0.2,"hi":1.42},{"p":6,"v":0.23,"x":1,"lo":0.05,"hi":1.48},{"p":6,"v":0.23,"x":1.6,"lo":0.05,"hi":1.42},{"p":6,"v":0.23,"x":2.2,"lo":0.45,"hi":1.3},{"p":6,"v":0.23,"x":2.6,"lo":0.85,"hi":1.12},{"p":6,"v":0.23,"x":2.68,"lo":1,"hi":1.02},
{"p":6,"v":0.28,"x":0.4,"lo":0.7,"hi":1.3},{"p":6,"v":0.28,"x":0.7,"lo":0.3,"hi":1.4},{"p":6,"v":0.28,"x":1.1,"lo":0.15,"hi":1.47},{"p":6,"v":0.28,"x":1.7,"lo":0.3,"hi":1.38},{"p":6,"v":0.28,"x":2.2,"lo":0.6,"hi":1.25},{"p":6,"v":0.28,"x":2.55,"lo":0.98,"hi":1.04},
{"p":6,"v":0.34,"x":0.45,"lo":0.72,"hi":1.28},{"p":6,"v":0.34,"x":0.75,"lo":0.4,"hi":1.38},{"p":6,"v":0.34,"x":1.1,"lo":0.45,"hi":1.44},{"p":6,"v":0.34,"x":1.7,"lo":0.4,"hi":1.35},{"p":6,"v":0.34,"x":2.2,"lo":0.68,"hi":1.22},{"p":6,"v":0.34,"x":2.45,"lo":0.98,"hi":1.03},
{"p":6,"v":0.42,"x":0.5,"lo":0.75,"hi":1.25},{"p":6,"v":0.42,"x":0.8,"lo":0.55,"hi":1.36},{"p":6,"v":0.42,"x":1.1,"lo":0.5,"hi":1.4},{"p":6,"v":0.42,"x":1.7,"lo":0.55,"hi":1.32},{"p":6,"v":0.42,"x":2.1,"lo":0.78,"hi":1.2},{"p":6,"v":0.42,"x":2.35,"lo":0.98,"hi":1.03},
{"p":6,"v":0.5,"x":0.57,"lo":0.8,"hi":1.2},{"p":6,"v":0.5,"x":0.85,"lo":0.6,"hi":1.33},{"p":6,"v":0.5,"x":1.15,"lo":0.58,"hi":1.37},{"p":6,"v":0.5,"x":1.7,"lo":0.62,"hi":1.3},{"p":6,"v":0.5,"x":2.05,"lo":0.83,"hi":1.17},{"p":6,"v":0.5,"x":2.18,"lo":1,"hi":1.03},
{"p":6,"v":0.58,"x":0.62,"lo":0.85,"hi":1.17},{"p":6,"v":0.58,"x":0.85,"lo":0.67,"hi":1.3},{"p":6,"v":0.58,"x":1.15,"lo":0.63,"hi":1.33},{"p":6,"v":0.58,"x":1.6,"lo":0.7,"hi":1.25},{"p":6,"v":0.58,"x":1.9,"lo":0.88,"hi":1.13},{"p":6,"v":0.58,"x":2,"lo":1,"hi":1.03},
{"p":6,"v":0.66,"x":0.68,"lo":0.9,"hi":1.12},{"p":6,"v":0.66,"x":0.9,"lo":0.72,"hi":1.27},{"p":6,"v":0.66,"x":1.15,"lo":0.7,"hi":1.29},{"p":6,"v":0.66,"x":1.5,"lo":0.77,"hi":1.22},{"p":6,"v":0.66,"x":1.7,"lo":0.92,"hi":1.08},{"p":6,"v":0.66,"x":1.75,"lo":1,"hi":1.02},
{"p":6,"v":0.74,"x":0.73,"lo":0.92,"hi":1.1},{"p":6,"v":0.74,"x":0.95,"lo":0.76,"hi":1.24},{"p":6,"v":0.74,"x":1.15,"lo":0.75,"hi":1.25},{"p":6,"v":0.74,"x":1.4,"lo":0.82,"hi":1.18},{"p":6,"v":0.74,"x":1.58,"lo":0.98,"hi":1.03},
{"p":6,"v":0.82,"x":0.78,"lo":0.95,"hi":1.06},{"p":6,"v":0.82,"x":0.95,"lo":0.8,"hi":1.2},{"p":6,"v":0.82,"x":1.15,"lo":0.79,"hi":1.21},{"p":6,"v":0.82,"x":1.35,"lo":0.85,"hi":1.15},{"p":6,"v":0.82,"x":1.47,"lo":1,"hi":1.03},
{"p":6,"v":0.9,"x":0.83,"lo":0.97,"hi":1.03},{"p":6,"v":0.9,"x":1,"lo":0.85,"hi":1.15},{"p":6,"v":0.9,"x":1.15,"lo":0.84,"hi":1.16},{"p":6,"v":0.9,"x":1.3,"lo":0.9,"hi":1.1},{"p":6,"v":0.9,"x":1.4,"lo":1,"hi":1.02},
{"p":6,"v":0.97,"x":0.93,"lo":0.98,"hi":1.02},{"p":6,"v":0.97,"x":1.03,"lo":0.89,"hi":1.11},{"p":6,"v":0.97,"x":1.2,"lo":0.89,"hi":1.11},{"p":6,"v":0.97,"x":1.33,"lo":1,"hi":1.02}
]},
"facet":{"field":"p","type":"ordinal","header":{"title":null,"labelFontSize":28,"labelColor":"#262626","labelPadding":-13,"labelExpr":"['Cloned Policy 𝜋⁎','From Scratch','Fine-tuning','Fine-tuning + KS','Fine-tuning + BC','Fine-tuning + EWC'][datum.value-1]"}},
"resolve":{"axis":{"x":"independent","y":"independent"},"scale":{"x":"shared","y":"shared"}},
"spec":{"width":646,"height":506,"layer":[
{"mark":{"type":"area","interpolate":"monotone","clip":true,"strokeOpacity":0.5,"strokeJoin":"round","strokeWidth":{"expr":"datum.p==3?0.8:datum.p==2?1.2:datum.p==6?(datum.v<0.18?9:4):(datum.v<0.5?11:5)"}},"encoding":{
"x":{"field":"x","type":"quantitative","title":"Turns","scale":{"domain":[0,5],"nice":false,"zero":false},"axis":{"values":[0,1,2,3,4,5],"format":"d","labelPadding":10,"titlePadding":7}},
"y":{"field":"hi","type":"quantitative","title":"Dungeon Level","scale":{"domain":[0.5,9],"nice":false,"zero":false},"axis":{"values":[1,3,5,7,9],"format":"d","labelPadding":9,"titlePadding":11}},
"y2":{"field":"lo"},
"detail":{"field":"v","type":"nominal"},
"color":{"field":"v","type":"quantitative","legend":null,"scale":{"domain":[0,0.14,0.21,0.28,0.36,0.45,0.55,0.64,0.73,0.82,0.91,1],"range":["#0B0405","#231526","#35264C","#403A75","#3D5296","#366DA0","#3487A6","#35A1AB","#43BBAD","#6CD3AD","#ADE3C0","#DEF5E5"]}},
"stroke":{"field":"v","type":"quantitative","legend":null,"scale":{"domain":[0,0.14,0.21,0.28,0.36,0.45,0.55,0.64,0.73,0.82,0.91,1],"range":["#0B0405","#231526","#35264C","#403A75","#3D5296","#366DA0","#3487A6","#35A1AB","#43BBAD","#6CD3AD","#ADE3C0","#DEF5E5"]}}}},
{"transform":[{"aggregate":[{"op":"count","as":"n"}]}],"mark":{"type":"text","text":"1e4","align":"right","baseline":"middle","fontSize":30.5,"color":"#262626","dy":60,"clip":false},"encoding":{"x":{"datum":5},"y":{"datum":0.5}}}
]}}
